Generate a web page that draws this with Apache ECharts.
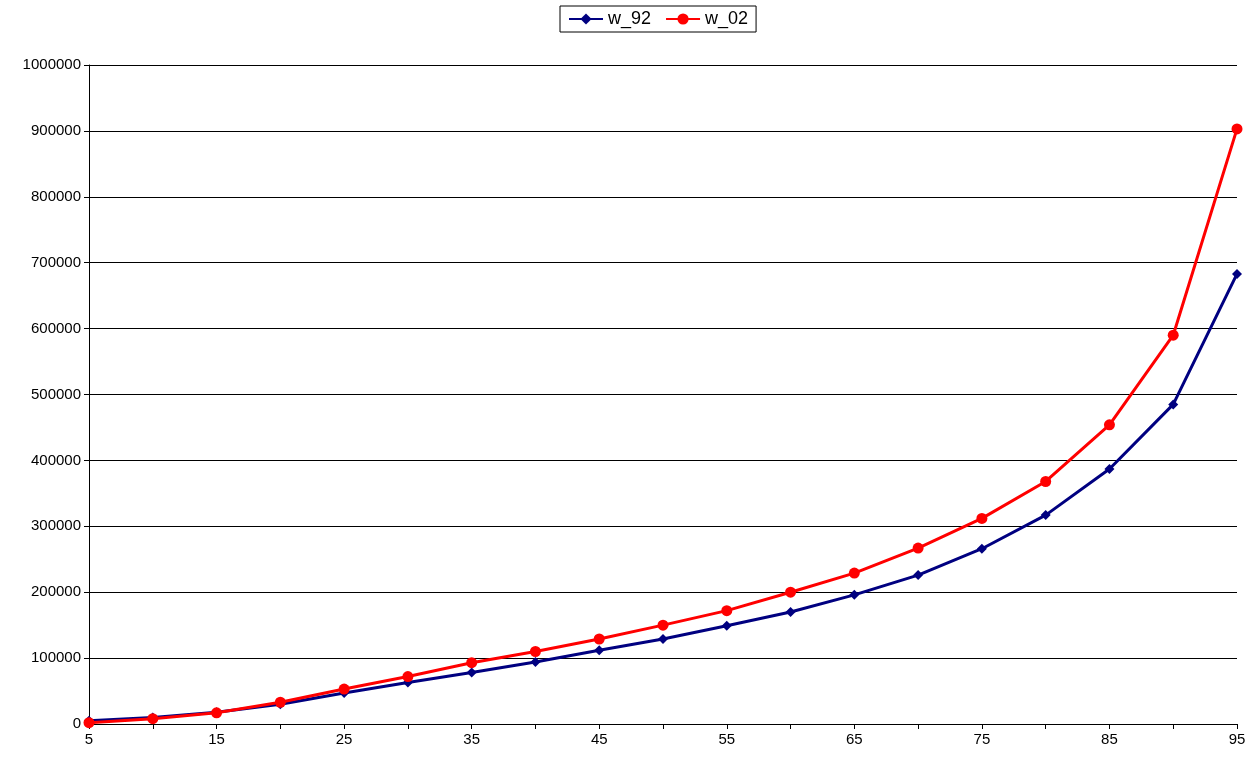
<!DOCTYPE html>
<html>
<head>
<meta charset="utf-8">
<script src="https://cdn.jsdelivr.net/npm/echarts@6/dist/echarts.min.js"></script>
<style>html,body{margin:0;padding:0;background:#fff}#main{width:1255px;height:762px}</style>
</head>
<body>
<div id="main"></div>
<script>
var categories = ['5','10','15','20','25','30','35','40','45','50','55','60','65','70','75','80','85','90','95'];
var w92 = [5000,10000,18000,30000,47000,63000,78000,94000,112000,129000,149000,170000,196000,226000,266000,317000,387000,485000,683000];
var w02 = [2000,8000,17000,33000,53000,72000,93000,110000,129000,150000,172000,200000,229000,267000,312000,368000,454000,590000,903000];

var chart = echarts.init(document.getElementById('main'));
chart.setOption({
  animation: false,
  textStyle: { fontFamily: 'Liberation Sans, Arial, sans-serif' },
  legend: {
    top: 6, left: 560,
    borderColor: '#000', borderWidth: 1, padding: [4, 8], itemGap: 14, itemWidth: 34,
    textStyle: { fontSize: 18, color: '#000' },
    data: ['w_92', 'w_02']
  },
  grid: { left: 89, right: 18, top: 65, bottom: 38 },
  xAxis: {
    type: 'category', data: categories, boundaryGap: false,
    axisLine: { lineStyle: { color: '#000' } },
    axisTick: { interval: 0, lineStyle: { color: '#000' } },
    axisLabel: { interval: 1, color: '#000', fontSize: 15 }
  },
  yAxis: {
    type: 'value', min: 0, max: 1000000, interval: 100000,
    axisLine: { show: true, lineStyle: { color: '#000' } },
    axisTick: { show: true, lineStyle: { color: '#000' } },
    axisLabel: { color: '#000', fontSize: 15, formatter: function (v) { return String(v); } },
    splitLine: { lineStyle: { color: '#000', width: 1 } }
  },
  series: [
    { name: 'w_92', type: 'line', data: w92, symbol: 'diamond', symbolSize: 10,
      lineStyle: { color: '#000080', width: 3 }, itemStyle: { color: '#000080' } },
    { name: 'w_02', type: 'line', data: w02, symbol: 'circle', symbolSize: 11,
      lineStyle: { color: '#ff0000', width: 3 }, itemStyle: { color: '#ff0000' } }
  ]
});
window.onresize = chart.resize;
</script>
</body>
</html>
